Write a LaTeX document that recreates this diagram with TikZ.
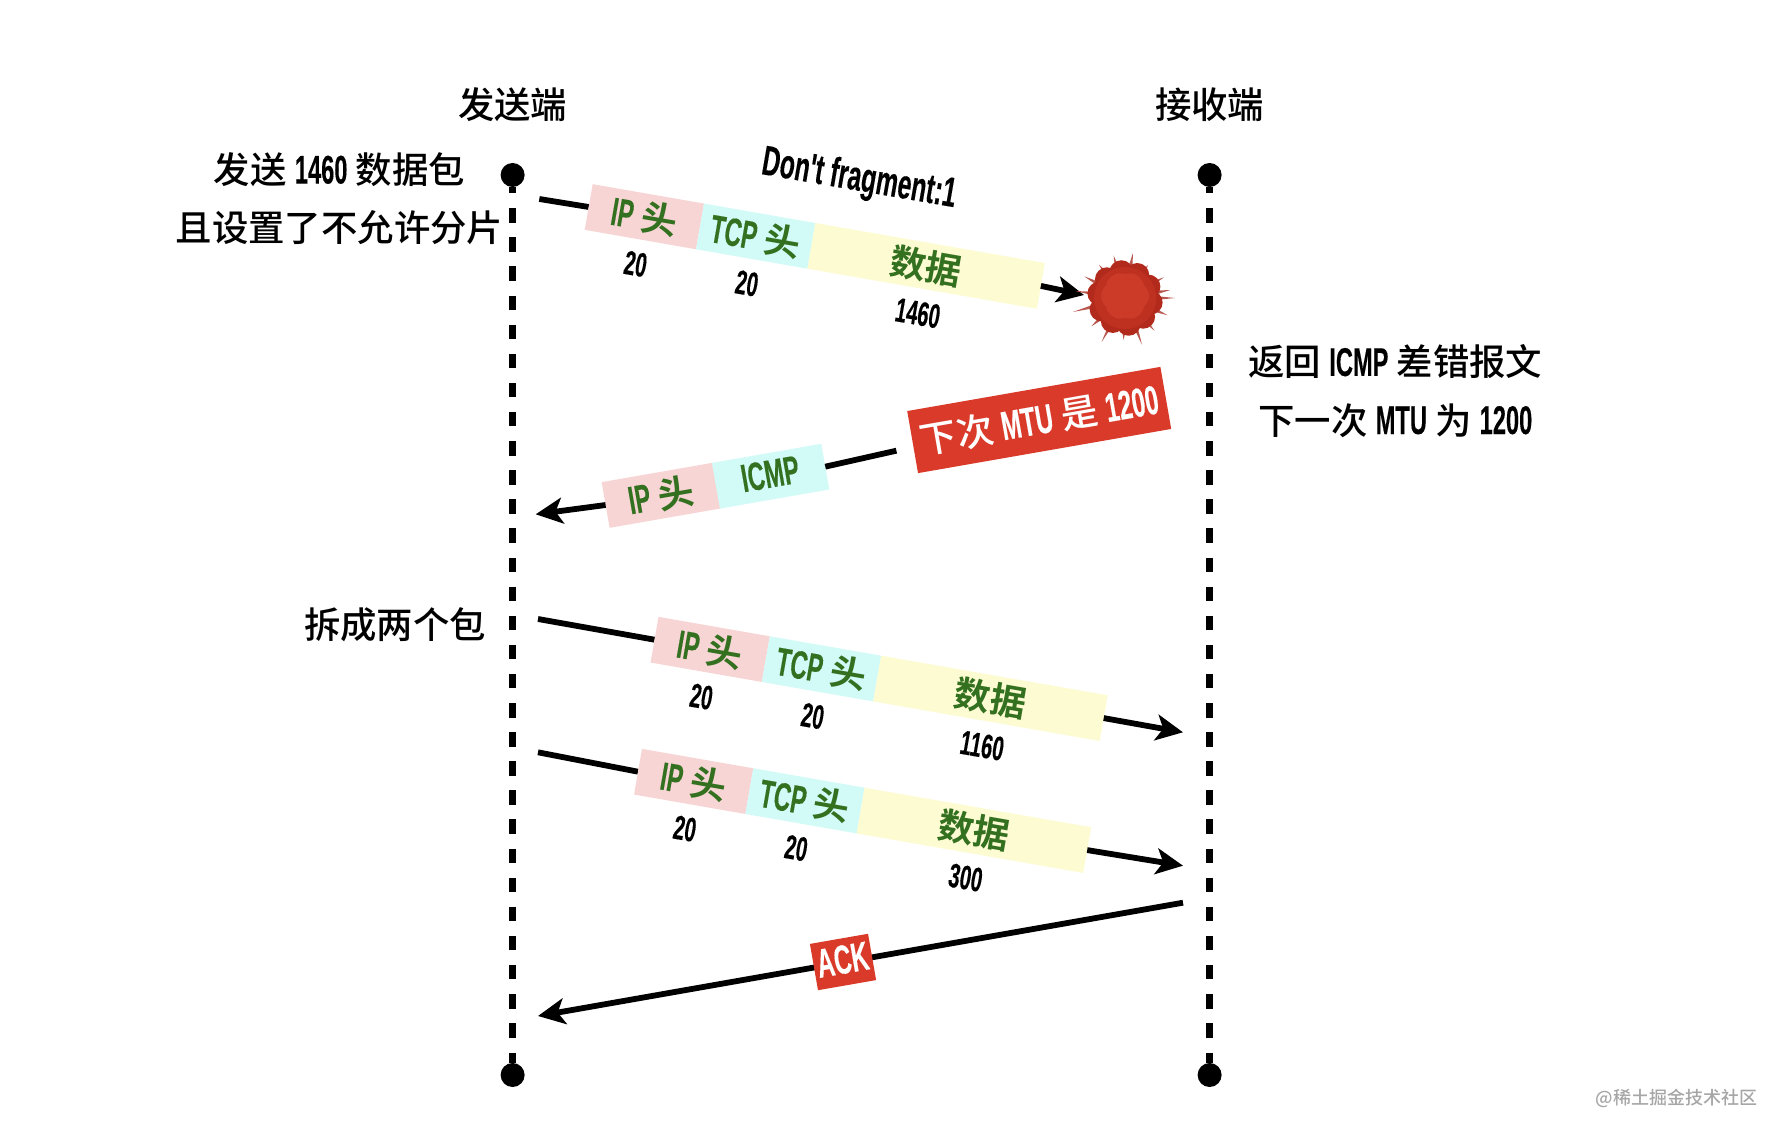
\documentclass[tikz,border=0pt]{standalone}
\usepackage{fontspec}
\usetikzlibrary{arrows.meta,calc}
\newfontfamily\cjk{Noto Sans CJK SC Medium}
\newfontfamily\cjkb{Noto Sans CJK SC Bold}
\newfontfamily\lat[FakeStretch=0.59,Scale=1.1,FakeBold=0.2,UprightFont=* Bold,BoldFont=* Bold]{Liberation Sans}
\newcommand\la[1]{{\lat #1}}
\definecolor{ipc}{HTML}{F8D5D5}
\definecolor{tcpc}{HTML}{D2FAF7}
\definecolor{datac}{HTML}{FDFBD2}
\definecolor{grn}{HTML}{33701F}
\definecolor{redb}{HTML}{D93A2A}
\definecolor{burstout}{HTML}{B22A1C}
\definecolor{burstmid}{HTML}{BE3020}
\definecolor{burstin}{HTML}{CC3A28}
\definecolor{spike}{HTML}{B8574E}
\tikzset{
 seg/.style={transform shape,anchor=west,minimum height=23.2pt,inner sep=0pt,outer sep=0pt,text=grn,
   font=\cjkb\fontsize{18}{20}\selectfont},
 ipseg/.style={seg,fill=ipc,minimum width=56.5pt},
 tcpseg/.style={seg,fill=tcpc,minimum width=56.5pt},
 dataseg/.style={seg,fill=datac},
 sizelabel/.style={transform shape,inner sep=0pt,font=\lat\fontsize{15.5}{18}\selectfont},
 lifeline/.style={line width=3.5pt},
 dot/.style={circle,fill=black,minimum size=12pt,inner sep=0pt},
 msg/.style={line width=2.9pt},
 arr/.style={msg,-{Stealth[length=13.5pt,width=13pt,inset=3.5pt]}},
 side/.style={inner sep=0pt,font=\cjk\fontsize{18.2}{20}\selectfont},
 redtag/.style={fill=redb,text=white,inner sep=0pt,outer sep=0pt,font=\cjk\fontsize{18.5}{22}\selectfont}
}
% prefix, left-mid x, y, data width in px, size number
\newcommand\pkt[5]{%
\begin{scope}[shift={(#2,#3)},rotate=-9.9]
 \node[ipseg] (#1ip) at (0,0) {\la{IP} 头};
 \node[tcpseg] (#1tcp) at (113,0) {\la{TCP} 头};
 \node[dataseg,minimum width=#4*0.5pt] (#1data) at (226,0) {数据};
 \node[sizelabel] (#1a) at (56,48) {20};
 \node[sizelabel] (#1b) at (169,48) {20};
 \node[sizelabel] (#1c) at ({226+#4/2},48) {#5};
\end{scope}}
\begin{document}
\begin{tikzpicture}[x=0.5pt,y=-0.5pt]
\useasboundingbox (0,0) rectangle (1786,1138);
% lifelines
\node[dot] (ltop) at (512.6,175) {};
\node[dot] (lbot) at (512.6,1075) {};
\node[dot] (rtop) at (1209.6,175) {};
\node[dot] (rbot) at (1209.6,1075) {};
\coordinate (la) at (512.6,193.3);
\coordinate (lb) at (512.6,208.3);
\coordinate (lc) at (512.6,1038);
\coordinate (ld) at (512.6,1052.7);
\coordinate (ra) at (1209.6,193.3);
\coordinate (rb) at (1209.6,208.3);
\coordinate (rc) at (1209.6,1038);
\coordinate (rd) at (1209.6,1052.7);
\draw[lifeline] (ltop) -- (la);
\draw[lifeline] (ld) -- (lbot);
\draw[lifeline] (rtop) -- (ra);
\draw[lifeline] (rd) -- (rbot);
\draw[lifeline,dash pattern=on 7.25pt off 7.3pt] (lb) -- (lc);
\draw[lifeline,dash pattern=on 7.25pt off 7.3pt] (rb) -- (rc);
% titles
\node[side] (t1) at (512.6,104.8) {发送端};
\node[side] (t2) at (1209.6,104.8) {接收端};
\node[side] (n1) at (339.4,169.7) {发送 \la{1460} 数据包};
\node[side] (n2) at (339.4,228) {且设置了不允许分片};
\node[side] (n3) at (1395.3,362) {返回 \la{ICMP} 差错报文};
\node[side] (n4) at (1395.3,420.3) {下一次 \la{MTU} 为 \la{1200}};
\node[side] (n5) at (395,625) {拆成两个包};
\node[inner sep=0pt,text=black!35,font=\cjk\fontsize{9}{11}\selectfont] (wm) at (1676.6,1098) {@稀土掘金技术社区};
\node[rotate=-9.75,inner sep=0pt,font=\lat\fontsize{19}{22}\selectfont] (df) at (859,180) {Don't fragment:1};
% packets
\coordinate (s1) at (539.3,199);
\coordinate (hit) at (1084,295);
\coordinate (s3) at (538,619);
\coordinate (e3) at (1183,732.3);
\coordinate (s4) at (538,752.3);
\coordinate (e4) at (1183,865.7);
\draw[msg] (s1) -- (588.7,207) coordinate (p1in);
\draw[msg] (s3) -- (654.5,639.7) coordinate (p3in);
\draw[msg] (s4) -- (638,771.7) coordinate (p4in);
\pkt{pa}{588.7}{207}{233}{1460}
\pkt{pc}{654.5}{639.7}{230}{1160}
\pkt{pd}{638}{771.7}{230}{300}
\draw[arr] (padata.east) -- (hit);
\draw[arr] (pcdata.east) -- (e3);
\draw[arr] (pddata.east) -- (e4);
% burst
\node[circle,inner sep=0pt,minimum size=37pt] (burst) at (1125,298) {};
\foreach \a/\l in {0/50,22/46,48/44,70/50,92/42,118/50,140/44,165/54,188/50,208/46,232/42,255/44,280/46,305/40,332/44,350/46}
  \fill[spike] ($(burst.center)+(\a+3:33)$) -- ($(burst.center)+(\a:\l)$) -- ($(burst.center)+(\a-3:33)$) -- cycle;
\foreach \a in {0,36,...,324}
  \fill[burstout] ($(burst.center)+(\a+10:26)$) circle (12);
\fill[burstmid] (burst.center) circle (31);
\foreach \a in {0,60,...,300}
  \fill[burstin] ($(burst.center)+(\a:10)+(0,-2)$) circle (14);
% ICMP packet
\coordinate (t2a) at (535.7,514.3);
\coordinate (mtuend) at (896.4,450.7);
\begin{scope}[shift={(605.6,505)},rotate=9.9]
 \node[ipseg] (bip) at (0,0) {\la{IP} 头};
 \node[tcpseg,minimum width=55.5pt] (bicmp) at (112,0) {\raisebox{2.5pt}{\la{ICMP}}};
\end{scope}
\draw[arr] (bip.west) -- (t2a);
\draw[msg] (bicmp.east) -- (mtuend);
\node[redtag,rotate=9.9,minimum width=128.5pt,minimum height=31.5pt] (mtu) at (1039.2,420) {下次 \la{MTU} 是 \la{1200}};
% ACK
\coordinate (as) at (1183,902.7);
\coordinate (ae) at (538,1016);
\draw[arr] (as) -- (ae);
\node[redtag,rotate=9.9,minimum width=29.5pt,minimum height=23.5pt] (ack) at (843,962) {\raisebox{2.5pt}{\la{ACK}}};
\end{tikzpicture}
\end{document}
